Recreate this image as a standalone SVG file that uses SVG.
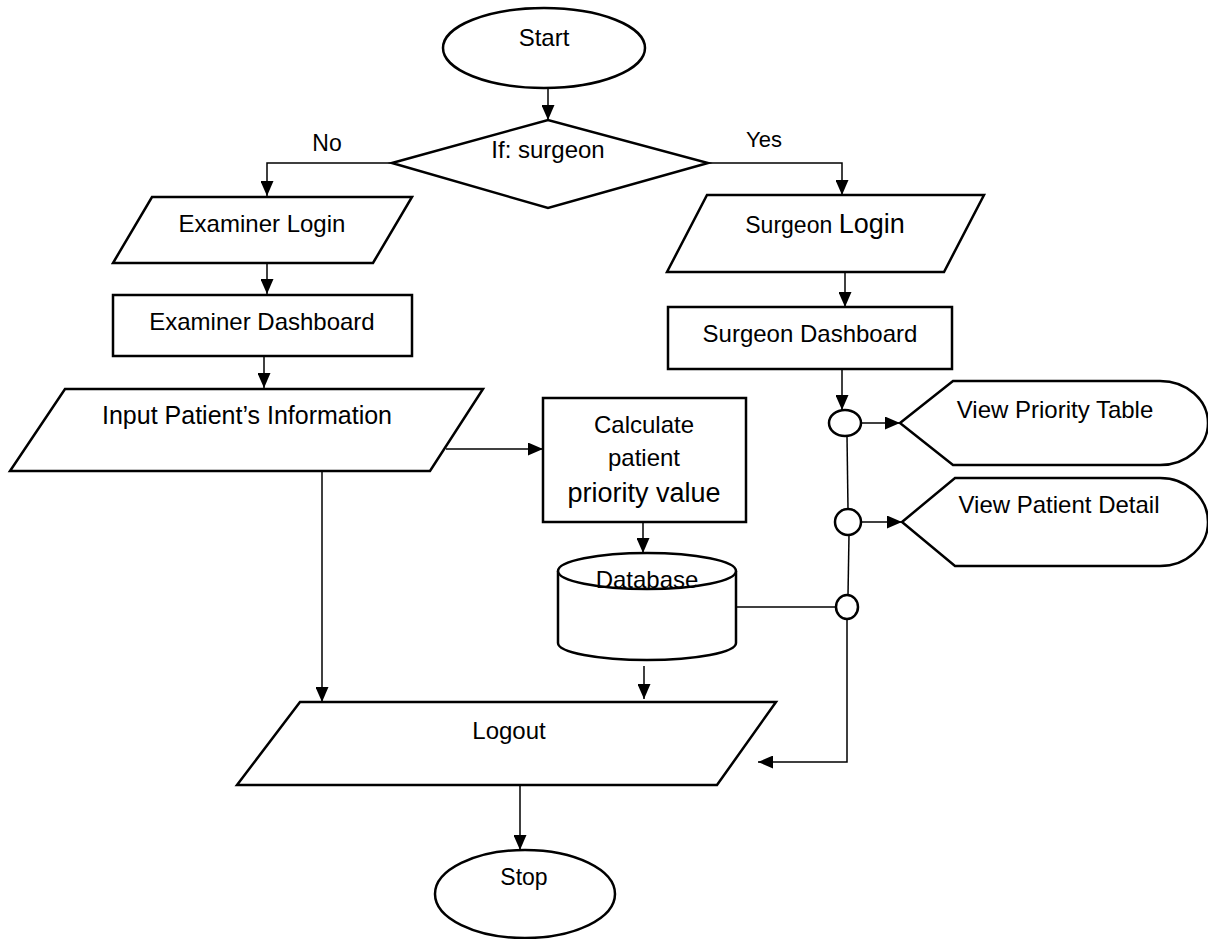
<svg xmlns="http://www.w3.org/2000/svg" width="1208" height="939" viewBox="0 0 1208 939">
<style>
.s{fill:#fff;stroke:#000;stroke-width:2.5}
.c{fill:none;stroke:#000;stroke-width:1.5}
.t{font-family:"Liberation Sans",Arial,sans-serif;font-size:24px;fill:#000;text-anchor:middle}
</style>
<defs>
<marker id="a" markerUnits="userSpaceOnUse" markerWidth="15" markerHeight="13" refX="15" refY="6.5" orient="auto">
<path d="M0,0 L15,6.5 L0,13 Z" fill="#000"/>
</marker>
</defs>
<rect width="1208" height="939" fill="#fff"/>
<g id="connectors">
<line class="c" x1="548" y1="88" x2="548" y2="120" marker-end="url(#a)"/>
<polyline class="c" points="392,163 267,163 267,196" marker-end="url(#a)"/>
<polyline class="c" points="708,163 842,163 842,195" marker-end="url(#a)"/>
<line class="c" x1="267" y1="263" x2="267" y2="294" marker-end="url(#a)"/>
<line class="c" x1="264" y1="356" x2="264" y2="388" marker-end="url(#a)"/>
<line class="c" x1="446" y1="449" x2="543" y2="449" marker-end="url(#a)"/>
<line class="c" x1="322" y1="471" x2="322" y2="702" marker-end="url(#a)"/>
<line class="c" x1="643" y1="522" x2="643" y2="553" marker-end="url(#a)"/>
<line class="c" x1="644" y1="666" x2="644" y2="699" marker-end="url(#a)"/>
<line class="c" x1="520" y1="785" x2="520" y2="850" marker-end="url(#a)"/>
<line class="c" x1="845" y1="272" x2="845" y2="307" marker-end="url(#a)"/>
<line class="c" x1="842" y1="369" x2="842" y2="410" marker-end="url(#a)"/>
<line class="c" x1="861" y1="423" x2="900" y2="423" marker-end="url(#a)"/>
<line class="c" x1="847" y1="436" x2="848" y2="509"/>
<line class="c" x1="861" y1="522" x2="902" y2="522" marker-end="url(#a)"/>
<line class="c" x1="849" y1="535" x2="848" y2="595"/>
<line class="c" x1="736" y1="607" x2="836" y2="607"/>
<polyline class="c" points="847,619 847,762 758,762" marker-end="url(#a)"/>
</g>
<g id="start">
<ellipse class="s" cx="544" cy="48" rx="101" ry="40"/>
<text class="t" x="544" y="46">Start</text>
</g>
<g id="decision">
<polygon class="s" points="392,163 548,120 708,163 548,208"/>
<text class="t" x="548" y="158">If: surgeon</text>
</g>
<text class="t" x="327" y="151" style="font-size:23px">No</text>
<text class="t" x="764" y="147" style="font-size:22px">Yes</text>
<g id="examiner-login">
<polygon class="s" points="152,197 412,197 373,263 113,263"/>
<text class="t" x="262" y="232">Examiner Login</text>
</g>
<g id="examiner-dashboard">
<rect class="s" x="113" y="295" width="299" height="61"/>
<text class="t" x="262" y="330">Examiner Dashboard</text>
</g>
<g id="input-patient">
<polygon class="s" points="65,389 483,389 430,471 10,471"/>
<text class="t" x="247" y="424" style="font-size:25px">Input Patient’s Information</text>
</g>
<g id="calculate">
<rect class="s" x="543" y="398" width="203" height="124"/>
<text class="t" x="644" y="433">Calculate</text>
<text class="t" x="644" y="466">patient</text>
<text class="t" x="644" y="502" style="font-size:27px">priority value</text>
</g>
<g id="database">
<path class="s" d="M558,571 L558,643 A89,17 0 0 0 736,643 L736,571"/>
<ellipse class="s" cx="647" cy="571" rx="89" ry="18"/>
<text class="t" x="647" y="588">Database</text>
</g>
<g id="surgeon-login">
<polygon class="s" points="707,195 984,195 944,272 667,272"/>
<text class="t" x="825" y="233"><tspan style="font-size:23px">Surgeon </tspan><tspan style="font-size:27px">Login</tspan></text>
</g>
<g id="surgeon-dashboard">
<rect class="s" x="668" y="307" width="284" height="62"/>
<text class="t" x="810" y="342">Surgeon Dashboard</text>
</g>
<g id="junction1"><ellipse class="s" cx="845" cy="423" rx="16" ry="13"/></g>
<g id="junction2"><ellipse class="s" cx="848" cy="522" rx="13" ry="13"/></g>
<g id="junction3"><ellipse class="s" cx="847" cy="607" rx="11" ry="12"/></g>
<g id="view-priority-table">
<path class="s" d="M900,423 L953,381 L1160,381 A48,42 0 0 1 1160,465 L953,465 Z"/>
<text class="t" x="1055" y="418">View Priority Table</text>
</g>
<g id="view-patient-detail">
<path class="s" d="M902,522 L955,478 L1160,478 A48,44 0 0 1 1160,566 L955,566 Z"/>
<text class="t" x="1059" y="513">View Patient Detail</text>
</g>
<g id="logout">
<polygon class="s" points="300,702 776,702 717,785 237,785"/>
<text class="t" x="509" y="739">Logout</text>
</g>
<g id="stop">
<ellipse class="s" cx="525" cy="894" rx="90" ry="44"/>
<text class="t" x="524" y="885" style="font-size:23px">Stop</text>
</g>
</svg>
